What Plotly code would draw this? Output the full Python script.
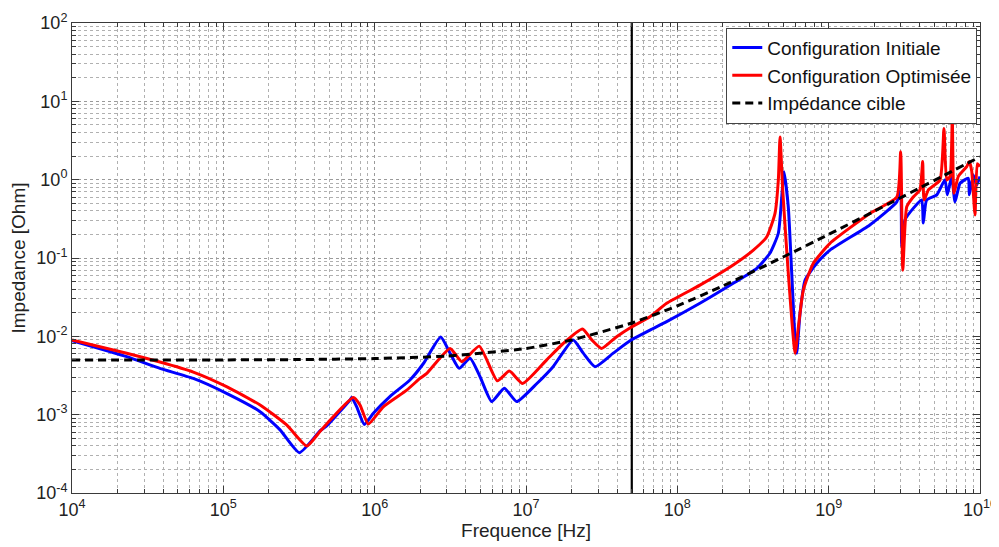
import plotly.graph_objects as go

# ---- data ----
freq_initiale = [1e4, 2.3e4, 3.81e4, 6.33e4, 1.05e5, 1.75e5, 2.37e5, 3.18e5, 4.35e5, 4.82e5,
                 6.87e5, 7.05e5, 7.61e5, 8.54e5, 9.8e5, 1.26e6, 1.71e6, 2.10e6, 2.73e6, 3.15e6,
                 3.62e6, 4.27e6, 4.97e6, 5.93e6, 7.19e6, 8.68e6, 1.18e7, 1.51e7, 2.05e7, 2.39e7,
                 2.86e7, 3.77e7, 4.92e7, 6.6e7, 8.5e7, 1.41e8, 2.34e8, 3.35e8, 4.09e8, 4.65e8,
                 4.90e8, 5.07e8, 5.41e8, 5.70e8, 6.0e8, 6.15e8, 6.47e8, 6.98e8, 8.34e8, 1.02e9,
                 1.87e9, 2.82e9, 2.99e9, 3.04e9, 3.19e9, 3.62e9, 4.12e9, 4.22e9, 4.44e9, 5.18e9,
                 5.87e9, 6.08e9, 6.50e9, 6.84e9, 7.38e9, 8.37e9, 8.50e9, 9.04e9, 9.51e9, 1e10]
z_initiale = [0.0088, 0.0055, 0.0039, 0.0029, 0.00187, 0.00109, 0.00064, 0.000327, 0.00062, 0.00072,
              0.00154, 0.00166, 0.00126, 0.00075, 0.00104, 0.0017, 0.00277, 0.0045, 0.0098, 0.0061,
              0.0039, 0.00525, 0.00305, 0.00147, 0.00217, 0.00147, 0.0025, 0.0041, 0.009, 0.0061,
              0.0041, 0.0061, 0.0089, 0.012, 0.0154, 0.0264, 0.0475, 0.0738, 0.115, 0.207,
              0.607, 1.26, 0.45, 0.064, 0.009, 0.0061, 0.0197, 0.052, 0.0855, 0.126,
              0.264, 0.52, 0.74, 0.14, 0.305, 0.43, 0.55, 0.28, 0.55, 0.64,
              1.0, 0.64, 1.1, 0.52, 0.9, 1.04, 0.64, 1.14, 0.85, 1.1]

freq_optimisee = [1e4, 2.3e4, 3.81e4, 6.33e4, 1.05e5, 1.75e5, 2.62e5, 3.56e5, 4.35e5, 5.07e5,
                  7.23e5, 8.0e5, 9.08e5, 1.14e6, 1.63e6, 1.99e6, 2.21e6, 3.15e6, 3.76e6, 4.91e6,
                  6.46e6, 7.76e6, 9.51e6, 1.37e7, 1.76e7, 2.36e7, 2.72e7, 3.16e7, 3.97e7, 4.92e7,
                  6.6e7, 8.5e7, 1.41e8, 2.34e8, 3.18e8, 3.90e8, 4.42e8, 4.65e8, 4.77e8, 4.97e8,
                  5.41e8, 6.0e8, 6.31e8, 6.80e8, 7.92e8, 1.02e9, 1.87e9, 2.82e9, 2.99e9, 3.09e9,
                  3.28e9, 3.62e9, 4.01e9, 4.18e9, 4.27e9, 4.56e9, 5.44e9, 5.78e9, 6.03e9, 6.34e9,
                  6.56e9, 6.73e9, 7.19e9, 8.17e9, 8.50e9, 8.81e9, 9.27e9, 9.60e9, 1e10]
z_optimisee = [0.009, 0.00607, 0.0047, 0.0035, 0.00228, 0.00133, 0.00074, 0.000398, 0.00061, 0.00085,
               0.00166, 0.00133, 0.00076, 0.00126, 0.00206, 0.0029, 0.00337, 0.0070, 0.00475, 0.0075,
               0.0027, 0.0036, 0.0025, 0.005, 0.0081, 0.0124, 0.009, 0.0070, 0.0099, 0.013,
               0.0178, 0.0264, 0.045, 0.0815, 0.126, 0.187, 0.372, 0.99, 3.5, 0.74,
               0.064, 0.0061, 0.0133, 0.039, 0.0855, 0.154, 0.37, 0.6, 2.27, 0.070,
               0.45, 0.6, 0.74, 1.7, 0.55, 0.74, 0.99, 4.5, 0.99, 1.1,
               6.1, 0.67, 1.1, 1.47, 1.7, 1.3, 0.354, 1.6, 1.47]

freq_cible = [1e4, 3e4, 1e5, 3e5, 1e6, 3e6, 1e7, 2e7, 5e7, 1e8, 2e8, 5e8, 1e9, 2e9, 5e9, 1e10]
z_cible = [0.005, 0.005, 0.005, 0.00505, 0.0052, 0.0056, 0.007, 0.009, 0.0148, 0.0245,
           0.044, 0.103, 0.2, 0.395, 0.98, 1.96]

marker_freq = [5e7, 5e7]
marker_z = [1e-4, 1e2]

x_exponents = [4, 5, 6, 7, 8, 9, 10]
y_exponents = [-4, -3, -2, -1, 0, 1, 2]

FONT = "Liberation Sans, Arial, sans-serif"


def decade_ticks(exps):
    vals = [10.0 ** e for e in exps]
    text = ["10<sup>%d</sup>" % e for e in exps]
    minor = [m * 10.0 ** e for e in exps[:-1] for m in range(2, 10)]
    return vals, text, minor


fig = go.Figure()
fig.add_trace(go.Scatter(x=marker_freq, y=marker_z, mode="lines",
                         line=dict(color="black", width=2.2), showlegend=False, hoverinfo="skip"))
fig.add_trace(go.Scatter(x=freq_initiale, y=z_initiale, mode="lines", name="Configuration Initiale",
                         line=dict(color="#0000ff", width=3, shape="spline", smoothing=0.5)))
fig.add_trace(go.Scatter(x=freq_optimisee, y=z_optimisee, mode="lines", name="Configuration Optimisée",
                         line=dict(color="#ff0000", width=3, shape="spline", smoothing=0.5)))
fig.add_trace(go.Scatter(x=freq_cible, y=z_cible, mode="lines", name="Impédance cible",
                         line=dict(color="black", width=3, dash="8px,5px", shape="spline", smoothing=0.6)))


def axis_style(exps):
    vals, text, minor = decade_ticks(exps)
    return dict(
        type="log",
        range=[exps[0], exps[-1]],
        tickmode="array", tickvals=vals, ticktext=text,
        automargin=False,
        showline=True, linecolor="#3a3a3a", linewidth=1, mirror="ticks",
        ticks="inside", ticklen=7, tickcolor="#3a3a3a",
        showgrid=True, gridcolor="#9a9a9a", griddash="dot", gridwidth=1,
        zeroline=False,
        tickfont=dict(family=FONT, size=18, color="#222"),
        minor=dict(tickmode="array", tickvals=minor, ticks="inside", ticklen=4, tickcolor="#3a3a3a",
                   showgrid=True, gridcolor="#b0b0b0", griddash="dot", gridwidth=1),
    )


fig.update_xaxes(**axis_style(x_exponents),
                 title=dict(text="Frequence [Hz]", font=dict(family=FONT, size=19, color="#222"), standoff=2))
fig.update_yaxes(**axis_style(y_exponents),
                 title=dict(text="Impedance [Ohm]", font=dict(family=FONT, size=19, color="#222"), standoff=10))

# the page has an 8px body margin, so the figure is offset by 8px
fig.update_layout(
    width=991, height=539,
    margin=dict(l=64, r=19, t=15, b=54),
    paper_bgcolor="white", plot_bgcolor="white",
    font=dict(family=FONT, size=16, color="#222"),
    showlegend=True,
    legend=dict(x=0.997, y=0.99, xanchor="right", yanchor="top",
                bgcolor="white", bordercolor="#444", borderwidth=1,
                font=dict(family=FONT, size=19, color="#111"),
                itemwidth=30, tracegroupgap=0),
)

fig.write_html("out.html")
